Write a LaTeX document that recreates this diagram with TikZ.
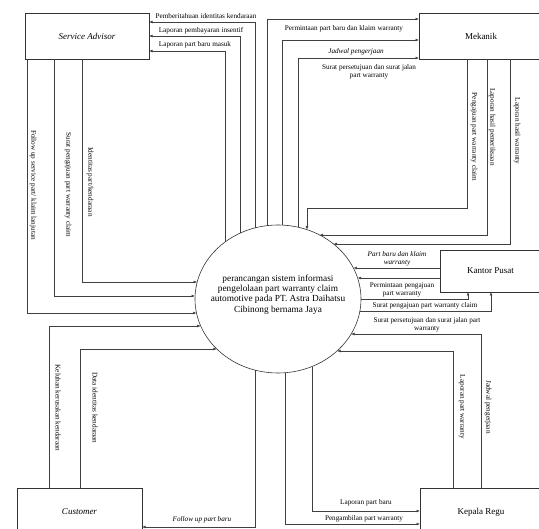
\documentclass[tikz,border=0pt]{standalone}
\usepackage{fontspec}
\setmainfont{Liberation Serif}
\usetikzlibrary{arrows.meta,calc,shapes.geometric}
\begin{document}
\begin{tikzpicture}[x=1pt,y=-1pt,
  declare function={ex(\d)=83*sqrt(1-(\d/74)^2); ey(\d)=74*sqrt(1-(\d/83)^2);},
  entity/.style={draw=black!80, line width=0.6pt, inner sep=0pt, outer sep=0pt, anchor=north west, font=\fontsize{9}{10}\selectfont},
  flow/.style={draw=black!75, line width=0.55pt, -{Latex[length=3.5pt,width=2.8pt]}},
  lbl/.style={inner sep=0pt, font=\fontsize{7.2}{8.4}\selectfont, align=center},
  ilbl/.style={lbl, font=\fontsize{7.2}{8.4}\selectfont\itshape},
  vlbl/.style={lbl, rotate=-90},
]
\useasboundingbox (0,0) rectangle (539,529);

% entities
\node[entity, minimum width=124pt, minimum height=46pt] (sa) at (25,13) {\itshape Service Advisor};
\node[entity, minimum width=124pt, minimum height=46pt] (mk) at (419,13) {Mekanik};
\node[entity, minimum width=101pt, minimum height=42pt] (kp) at (440,250) {Kantor Pusat};
\node[entity, minimum width=125pt, minimum height=48pt] (cu) at (17,488) {\itshape Customer};
\node[entity, minimum width=122pt, minimum height=48pt] (kr) at (420,488) {Kepala Regu};

% process
\node[draw=black!80, line width=0.6pt, ellipse, minimum width=166pt, minimum height=148pt, inner sep=0pt, outer sep=0pt] (c) at (278,299) {};
\node[font=\fontsize{9.3}{10.3}\selectfont, align=center, inner sep=0pt] (ctext) at (278,294.5)
  {perancangan sistem informasi\\pengelolaan part warranty claim\\automotive pada PT. Astra Daihatsu\\Cibinong bernama Jaya};

% border points of the process
\coordinate (cL282) at ($(c.center)+({-ex(-17)},-17)$);
\coordinate (cL296) at ($(c.center)+({-ex(-3)},-3)$);
\coordinate (cL313) at ($(c.center)+({-ex(14)},14)$);
\coordinate (cL326) at ($(c.center)+({-ex(27)},27)$);
\coordinate (cL349) at ($(c.center)+({-ex(50)},50)$);
\coordinate (cR235) at ($(c.center)+({ex(-64)},-64)$);
\coordinate (cR244) at ($(c.center)+({ex(-55)},-55)$);
\coordinate (cR268) at ($(c.center)+({ex(-31)},-31)$);
\coordinate (cR278) at ($(c.center)+({ex(-21)},-21)$);
\coordinate (cR299) at ($(c.center)+({ex(0)},0)$);
\coordinate (cR311) at ($(c.center)+({ex(12)},12)$);
\coordinate (cR334) at ($(c.center)+({ex(35)},35)$);
\coordinate (cR351) at ($(c.center)+({ex(52)},52)$);
\coordinate (cT225) at ($(c.center)+(-53,{-ey(-53)})$);
\coordinate (cT240) at ($(c.center)+(-38,{-ey(-38)})$);
\coordinate (cT255) at ($(c.center)+(-23,{-ey(-23)})$);
\coordinate (cT267) at ($(c.center)+(-11,{-ey(-11)})$);
\coordinate (cT282) at ($(c.center)+(4,{-ey(4)})$);
\coordinate (cT298) at ($(c.center)+(20,{-ey(20)})$);
\coordinate (cT307) at ($(c.center)+(29,{-ey(29)})$);
\coordinate (cB255) at ($(c.center)+(-23,{ey(-23)})$);
\coordinate (cB285) at ($(c.center)+(7,{ey(7)})$);
\coordinate (cB312) at ($(c.center)+(34,{ey(34)})$);

% Service Advisor
\draw[flow] (cT255) |- (sa.east |- 0,22);
\draw[flow] (cT240) |- (sa.east |- 0,36);
\draw[flow] (cT225) |- (sa.east |- 0,51);
\node[lbl] (l1) at (206,16) {Pemberitahuan identitas kendaraan};
\node[lbl] (l2) at (201,31) {Laporan pembayaran insentif};
\node[lbl] (l3) at (195,44.5) {Laporan part baru masuk};
\draw[flow] (sa.south -| 82,0) |- (cL282);
\draw[flow] (sa.south -| 54,0) |- (cL296);
\draw[flow] (sa.south -| 27,0) |- (cL313);
\node[vlbl] (l4) at (33,185) {Follow up service part/ klaim lanjutan};
\node[vlbl] (l5) at (68,185) {Surat pengajuan part warranty claim};
\node[vlbl] (l6) at (90,182) {Identitas part/kendaraan};

% Mekanik
\draw[flow] (cT267) |- (mk.west |- 0,19);
\draw[flow] (cT282) |- (mk.west |- 0,40);
\draw[flow] (cT298) |- (mk.west |- 0,58);
\node[lbl] (l7) at (344,29) {Permintaan part baru dan klaim warranty};
\node[ilbl] (l8) at (356,52) {Jadwal pengerjaan};
\node[lbl] (l9) at (369,72) {Surat persetujuan dan surat jalan\\part warranty};
\draw[flow] (mk.south -| 467,0) -- (467,208) -| (cT307);
\draw[flow] (mk.south -| 487,0) |- (cR235);
\draw[flow] (mk.south -| 510,0) |- (cR244);
\node[vlbl] (l10) at (474,137) {Pengajuan part warranty claim};
\node[vlbl] (l11) at (492,127) {Laporan hasil pemeriksaan};
\node[vlbl] (l12) at (517,131) {Laporan hasil warranty};

% Kantor Pusat
\draw[flow] (kp.west |- 0,268) -- (cR268);
\draw[flow] (kp.west |- 0,278) -- (cR278);
\draw[flow] (cR299) -| (kp.south -| 468,0);
\draw[flow] (cR311) -| (kp.south -| 491,0);
\node[ilbl] (l13) at (397,259) {Part baru dan klaim\\warranty};
\node[lbl] (l14) at (402,290) {Permintaan pengajuan\\part warranty};
\node[lbl] (l15) at (425,305.5) {Surat pengajuan part warranty claim};
\node[lbl] (l16) at (427,324.5) {Surat persetujuan dan surat jalan part\\warranty};

% Kepala Regu
\draw[flow] (kr.north -| 481,0) |- (cR334);
\draw[flow] (kr.north -| 453,0) |- (cR351);
\node[vlbl] (l17) at (462,407) {Laporan part warranty};
\node[vlbl] (l18) at (488,407) {Jadwal pengerjaan};
\draw[flow] (cB312) |- (kr.west |- 0,511);
\draw[flow] (cB285) |- (kr.west |- 0,524);
\node[lbl] (l19) at (366,503) {Laporan part baru};
\node[lbl] (l20) at (364,518.5) {Pengambilan part warranty};

% Customer
\draw[flow] (cB255) |- (cu.east |- 0,527);
\node[ilbl] (l21) at (202,519.5) {Follow up part baru};
\draw[flow] (cu.north -| 49,0) |- (cL326);
\draw[flow] (cu.north -| 80,0) |- (cL349);
\node[vlbl] (l22) at (58,408) {Keluhan kerusakan kendaraan};
\node[vlbl] (l23) at (95,408) {Data identitas kendaraan};
\end{tikzpicture}
\end{document}
